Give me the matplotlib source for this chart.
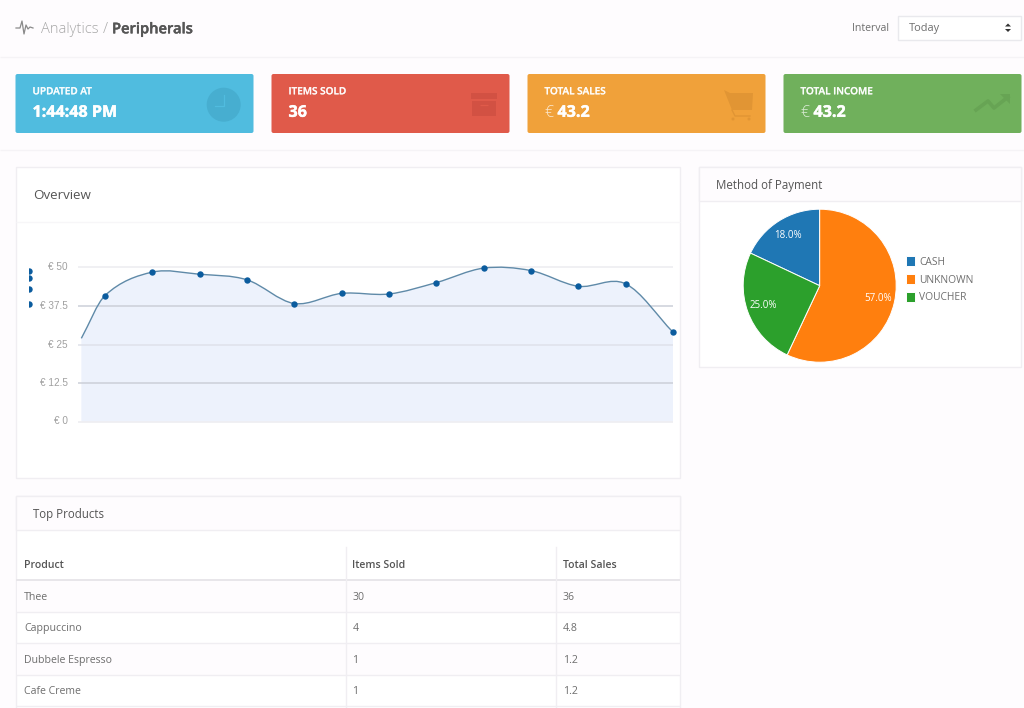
import numpy as np
import matplotlib
matplotlib.use("Agg")
import matplotlib.pyplot as plt
import matplotlib.patheffects as pe
from matplotlib.patches import Rectangle, Circle, FancyBboxPatch, PathPatch, Polygon
from matplotlib.path import Path

W, H = 1024, 708
plt.rcParams['font.family'] = ['Open Sans', 'DejaVu Sans']

# data
line_x = [-0.5, 0, 1, 2, 3, 4, 5, 6, 7, 8, 9, 10, 11, 12]
line_y = [27, 40.9, 48.5, 47.8, 46, 38.3, 41.6, 41.4, 45.1, 49.8, 49, 43.9, 44.7, 29]
stray_y = [49, 46.5, 43, 38.3]
y_ticks = [50, 37.5, 25, 12.5, 0]
y_labels = ['€ 50', '€ 37.5', '€ 25', '€ 12.5', '€ 0']

pay_labels = ['CASH', 'UNKNOWN', 'VOUCHER']
pay_values = [18, 57, 25]
pay_colors = ['#1f77b4', '#ff7f0e', '#2ca02c']

card_titles = ['UPDATED AT', 'ITEMS SOLD', 'TOTAL SALES', 'TOTAL INCOME']
card_prefix = ['', '', '€ ', '€ ']
card_values = ['1:44:48 PM', '36', '43.2', '43.2']
card_colors = ['#50bcdf', '#e05a4a', '#f0a13a', '#70b05c']
card_dark = ['#47aed0', '#d25143', '#e19534', '#67a454']

table_head = ['Product', 'Items Sold', 'Total Sales']
products = ['Thee', 'Cappuccino', 'Dubbele Espresso', 'Cafe Creme']
items_sold = ['30', '4', '1', '1']
total_sales = ['36', '4.8', '1.2', '1.2']

BG = '#fefcfe'
BORDER = '#f0eef2'
DARK = '#555555'
GREY = '#6e6e6e'

fig = plt.figure(figsize=(W / 100, H / 100), dpi=100, facecolor=BG)

# page chrome is drawn in pixel coordinates
page = fig.add_axes([0, 0, 1, 1])
page.set_xlim(0, W)
page.set_ylim(H, 0)
page.axis('off')


def box(x0, y0, x1, y1, fc, ec='none', lw=1, z=1):
    page.add_patch(Rectangle((x0, y0), x1 - x0, y1 - y0, fc=fc, ec=ec, lw=lw, zorder=z))


def hline(y, x0, x1, color=BORDER, lw=1.0, z=2):
    page.plot([x0, x1], [y, y], color=color, lw=lw, zorder=z, solid_capstyle='butt')


def fatten(txt, width=0.3):
    txt.set_path_effects([pe.withStroke(linewidth=width, foreground=txt.get_color())])


# header
hline(57, 0, W, '#f5f3f6')
hline(150, 0, W, '#f5f3f6')
page.plot([16, 20, 22, 24, 26, 28, 30, 33], [28, 28, 21, 34, 25, 29, 27, 28], color='#8a8a8a', lw=0.9, zorder=3)
page.text(41, 28, 'Analytics', fontsize=10.6, color='#a8a8a8', va='center', fontweight='light')
page.text(103, 28, '/', fontsize=10.6, color='#a8a8a8', va='center', fontweight='light')
fatten(page.text(112, 28, 'Peripherals', fontsize=10.6, color='#555555', va='center', fontweight='semibold'))
page.text(889, 27, 'Interval', fontsize=7.6, color=GREY, va='center', ha='right')
box(898, 15.5, 1021, 40, '#ffffff', '#e9e9ed')
page.text(908.5, 27, 'Today', fontsize=7.9, color=GREY, va='center')
page.add_patch(Polygon([[1005, 26.5], [1011, 26.5], [1008, 23.5]], fc='#333333', zorder=3))
page.add_patch(Polygon([[1005, 29], [1011, 29], [1008, 32]], fc='#333333', zorder=3))

# stat cards
card_left = [15.5, 271.5, 527.5, 783.5]
for i, x0 in enumerate(card_left):
    page.add_patch(FancyBboxPatch((x0 + 1, 75), 236, 57, boxstyle='round,pad=1,rounding_size=2',
                                  fc=card_colors[i], ec='none', zorder=1))
    fatten(page.text(x0 + 17, 90.5, card_titles[i], fontsize=7.2, color='#ffffff', alpha=0.85,
                     va='center', fontweight='semibold'), 0.2)
    tx = x0 + 17
    if card_prefix[i]:
        page.text(tx, 112, '€', fontsize=11.5, color='#ffffff', alpha=0.75, va='center', fontweight='light')
        tx += 13
    fatten(page.text(tx, 111.5, card_values[i], fontsize=11.6, color='#ffffff', va='center', fontweight='bold'), 0.3)

# card icons
page.add_patch(Circle((223.7, 104.7), 17, fc=card_dark[0], zorder=2))
page.plot([224, 224, 215], [95, 106, 106], color=card_colors[0], lw=0.9, zorder=3)
box(470.5, 93, 497, 99, card_dark[1], z=2)
box(472, 101, 496, 116, card_dark[1], z=2)
hline(104.5, 480, 488, card_colors[1], 0.9, 3)
page.add_patch(Polygon([[724, 90], [730, 93], [753, 93], [752, 110], [732, 110]], fc=card_dark[2], zorder=2))
page.plot([732, 735, 750], [110, 116, 116], color=card_dark[2], lw=1.0, zorder=2)
page.add_patch(Circle((733, 119), 1.5, fc=card_dark[2], zorder=2))
page.add_patch(Circle((749, 119), 1.5, fc=card_dark[2], zorder=2))
page.plot([976, 988, 994, 1008], [110, 101, 108, 97], color=card_dark[3], lw=2.6, zorder=2)
page.add_patch(Polygon([[1000, 94], [1010, 94], [1010, 104]], fc=card_dark[3], zorder=2))

# panels
box(16, 167, 680, 478, '#ffffff', BORDER)
hline(222, 16, 680, '#f7f6f8')
page.text(33, 194.5, 'Overview', fontsize=9.6, color=DARK, va='center')

box(699, 167, 1021, 367, '#ffffff', BORDER)
box(699, 167, 1021, 201, BG, BORDER)
page.text(716, 184, 'Method of Payment', fontsize=8.3, color=DARK, va='center')

box(16, 496, 680, 720, '#ffffff', BORDER)
box(16, 496, 680, 530, BG, BORDER)
page.text(33, 513, 'Top Products', fontsize=8.3, color=DARK, va='center')

# table
col_x = [24, 352.5, 563]
row_edges = [580, 612, 643, 675, 706]
for r in range(len(products)):
    if r % 2 == 0:
        box(17, row_edges[r], 680, row_edges[r + 1], BG)
    hline(row_edges[r + 1], 16, 680, '#f0eef2')
    yc = (row_edges[r] + row_edges[r + 1]) / 2
    for x, txt in zip(col_x, [products[r], items_sold[r], total_sales[r]]):
        page.text(x, yc, txt, fontsize=7.6, color=GREY, va='center')
for x, txt in zip(col_x, table_head):
    page.text(x, 564, txt, fontsize=7.6, color=DARK, va='center', fontweight='semibold')
hline(580, 16, 680, '#e8e6ea', 1.4)
page.plot([346, 346], [547, 708], color='#f0eef2', lw=1, zorder=3)
page.plot([556, 556], [547, 708], color='#f0eef2', lw=1, zorder=3)

# open sans sits a bit high with va=center
for t in page.texts:
    t.set_y(t.get_position()[1] + 1.3)

# line chart axes: x index 0 sits at px 105, 47.33 px per step; 3.08 px per euro, 0 at px 421.5
ax_l, ax_r, ax_t, ax_b = 28.5, 679, 223, 477
ax = fig.add_axes([ax_l / W, 1 - ax_b / H, (ax_r - ax_l) / W, (ax_b - ax_t) / H])
ax.set_xlim((ax_l - 105) / 47.33, (ax_r - 105) / 47.33)
ax.set_ylim((421.5 - ax_b) / 3.08, (421.5 - ax_t) / 3.08)
ax.axis('off')


def smooth_path(xs, ys, tension=0.33):
    xs, ys = np.asarray(xs, float), np.asarray(ys, float)
    dy = np.zeros_like(ys)
    dy[1:-1] = (ys[2:] - ys[:-2]) / (xs[2:] - xs[:-2])
    dy[0] = (ys[1] - ys[0]) / (xs[1] - xs[0])
    dy[-1] = (ys[-1] - ys[-2]) / (xs[-1] - xs[-2])
    verts = [(xs[0], ys[0])]
    codes = [Path.MOVETO]
    for i in range(len(xs) - 1):
        h = xs[i + 1] - xs[i]
        verts += [(xs[i] + h * tension, ys[i] + dy[i] * h * tension),
                  (xs[i + 1] - h * tension, ys[i + 1] - dy[i + 1] * h * tension),
                  (xs[i + 1], ys[i + 1])]
        codes += [Path.CURVE4] * 3
    return verts, codes


verts, codes = smooth_path(line_x, line_y)
fill_verts = verts + [(line_x[-1], 0), (line_x[0], 0), (line_x[0], line_y[0])]
fill_codes = codes + [Path.LINETO, Path.LINETO, Path.CLOSEPOLY]
ax.add_patch(PathPatch(Path(fill_verts, fill_codes), fc='#edf2fc', ec='none', zorder=1))

grid_colors = ['#ececf0', '#ccd0d8', '#dfe2ea', '#ccd0d8', '#ececf0']
x_left = ax.get_xlim()[0] + (78 - ax_l) / 47.33
for v, lab, c in zip(y_ticks, y_labels, grid_colors):
    ax.plot([x_left, line_x[-1]], [v, v], color=c, lw=1.1, zorder=2, solid_capstyle='butt')
    ax.text(x_left - 10 / 47.33, v, lab, fontsize=7.2, color='#a0a0a0', ha='right', va='center',
            family=['Liberation Sans', 'DejaVu Sans'])

ax.add_patch(PathPatch(Path(verts, codes), fc='none', ec='#5f8aa8', lw=1.0, zorder=3))
ax.plot(line_x[1:], line_y[1:], 'o', color='#0b5c9e', ms=4.6, mew=0, zorder=4, clip_on=False)
ax.plot([ax.get_xlim()[0]] * len(stray_y), stray_y, 'o', color='#0b5c9e', ms=4.6, mew=0, zorder=4)

# pie chart
cx, cy, rad = 819.7, 285.7, 76.5
pad = 1.02
pie_ax = fig.add_axes([(cx - rad * pad) / W, 1 - (cy + rad * pad) / H, 2 * rad * pad / W, 2 * rad * pad / H])
wedges, _, autotexts = pie_ax.pie(pay_values, colors=pay_colors, startangle=90 + pay_values[0] * 3.6,
                                  counterclock=False, radius=1.0, autopct='%1.1f%%', pctdistance=0.78,
                                  wedgeprops={'edgecolor': '#ffffff', 'linewidth': 0.7},
                                  textprops={'fontsize': 7, 'color': '#ffffff'})
pie_ax.set_xlim(-pad, pad)
pie_ax.set_ylim(-pad, pad)
leg = fig.legend(wedges, pay_labels, loc='upper left', bbox_to_anchor=(905.5 / W, 1 - 256 / H),
                 frameon=False, fontsize=7.4, handlelength=0.9, handleheight=1.15, handletextpad=0.45,
                 labelspacing=0.62, borderpad=0, borderaxespad=0)
for t in leg.get_texts():
    t.set_color(GREY)

fig.savefig('out.png', dpi=100, facecolor=BG)
